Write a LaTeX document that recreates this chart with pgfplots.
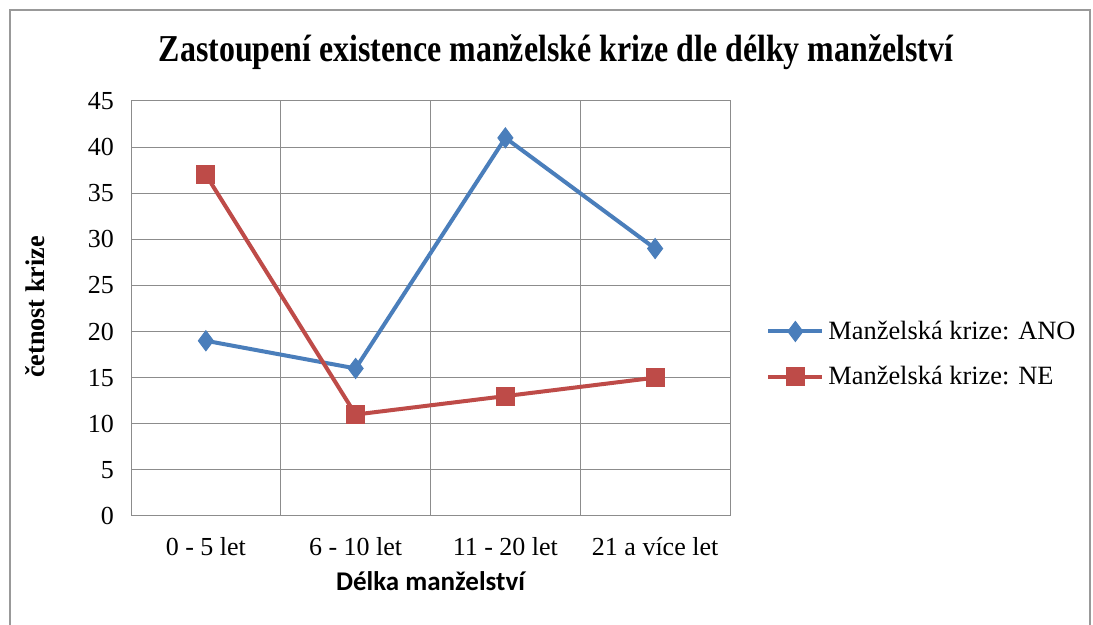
\documentclass[border=0pt]{standalone}
\usepackage{fontspec}
\setmainfont{Liberation Serif}
\newfontfamily\calfont{Carlito}
\usepackage{pgfplots}
\pgfplotsset{compat=1.18}
\definecolor{ano}{HTML}{4A7EBB}
\definecolor{ne}{HTML}{BE4B48}
\definecolor{gridc}{HTML}{8C8C8C}
\begin{document}
\begin{tikzpicture}[x=0.5pt,y=0.5pt]
\useasboundingbox (0,0) rectangle (1093,625);
\fill[white] (0,0) rectangle (1093,625);
\draw[gray!80, line width=1.2pt] (10,0) -- (10,615) -- (1090,615) -- (1090,0);
\node at (556,573) {\fontsize{19}{22}\selectfont\bfseries\scalebox{0.84}[1]{Zastoupení existence manželské krize dle délky manželství}};
\node[rotate=90] at (35,318) {\fontsize{13.5}{15}\selectfont\bfseries\scalebox{0.97}[1]{četnost krize}};
\begin{axis}[
  at={(65.5pt,54.5pt)}, anchor=south west,
  scale only axis, width=299.5pt, height=207.5pt,
  xmin=-0.5, xmax=3.5, ymin=0, ymax=45,
  xtick={0,1,2,3},
  xticklabels={0 - 5 let,6 - 10 let,11 - 20 let,21 a více let},
  extra x ticks={-0.5,0.5,1.5,2.5,3.5},
  extra x tick labels={},
  extra x tick style={grid=major, major tick length=0pt},
  ytick={0,5,...,45},
  ymajorgrids, 
  major grid style={gridc, line width=0.5pt},
  axis line style={gridc, line width=0.5pt},
  major tick length=0pt,
  tick style={draw=none},
  /pgf/number format/assume math mode=true,
  ticklabel style={font=\fontsize{13}{15}\selectfont},
  yticklabel style={xshift=-5pt},
  xticklabel style={yshift=-7pt},
  xlabel={\calfont\bfseries\fontsize{13.5}{15}\selectfont Délka manželství},
  xlabel style={yshift=-1pt},
  clip=false,
  legend style={at={(1.06,0.39)}, anchor=west, draw=none, fill=none,
    font=\fontsize{13.2}{15}\selectfont, row sep=8pt, inner sep=0pt},
  legend cell align=left,
  legend image code/.code={
    \draw[#1, line width=2pt] (0cm,0cm) -- (0.95cm,0cm);
    \draw[#1, line width=2pt, mark repeat=2, mark phase=2] plot coordinates {(0cm,0cm) (0.475cm,0cm) (0.95cm,0cm)};
  },
]
\addplot[ano, line width=2pt, mark=diamond*, mark size=5pt, mark options={solid, fill=ano, line width=0.5pt}]
  coordinates {(0,19) (1,16) (2,41) (3,29)};
\addlegendentry{Manželská krize: ANO}
\addplot[ne, line width=2pt, mark=square*, mark size=4.5pt, mark options={solid, fill=ne, line width=0.5pt}]
  coordinates {(0,37) (1,11) (2,13) (3,15)};
\addlegendentry{Manželská krize: NE}
\end{axis}
\end{tikzpicture}
\end{document}
